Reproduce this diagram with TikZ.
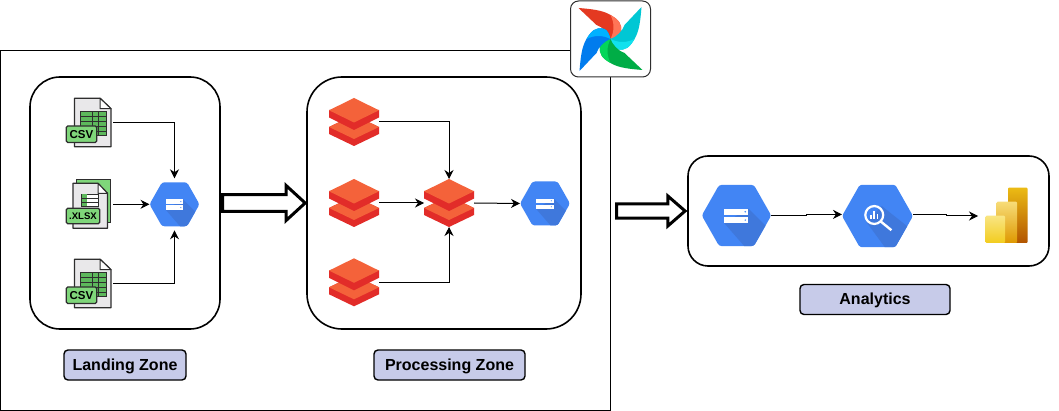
\documentclass[tikz,border=0pt]{standalone}
\usepackage{fontspec}
\setmainfont{Liberation Sans}
\usetikzlibrary{arrows.meta,shapes.arrows}
\definecolor{gcsblue}{HTML}{4285F4}
\definecolor{gcsshade}{HTML}{3F78DC}
\definecolor{dbred}{HTML}{E22C29}
\definecolor{dborange}{HTML}{F4623A}
\definecolor{labelfill}{HTML}{C7CBE9}
\definecolor{sheetgreen}{HTML}{7FD67A}
\definecolor{gridgreen}{HTML}{5DB85C}
\definecolor{inkdark}{HTML}{2E2E2E}
\definecolor{docgrey}{HTML}{E9E8EA}
\definecolor{afmainR}{HTML}{E43921}
\definecolor{aflightR}{HTML}{FF7557}
\definecolor{afmainT}{HTML}{00C7D4}
\definecolor{aflightT}{HTML}{11E1EE}
\definecolor{afmainG}{HTML}{00AD46}
\definecolor{aflightG}{HTML}{04D659}
\definecolor{afmainB}{HTML}{017CEE}
\definecolor{aflightB}{HTML}{00B2FF}
\definecolor{pbA}{HTML}{EBBB14}
\definecolor{pbB}{HTML}{B25400}
\definecolor{pbC}{HTML}{F7DC78}
\definecolor{pbD}{HTML}{DE9800}
\definecolor{pbE}{HTML}{F9E583}
\definecolor{pbF}{HTML}{F2CC1E}
\tikzset{
    zonebox/.style={draw,line width=1.6pt,rounded corners=#1,fill=white,inner sep=0},
    zonelabel/.style={draw,line width=1.4pt,rounded corners=4,fill=labelfill,inner sep=0,
        minimum height=30,text height=12,text depth=1,font=\fontsize{16}{18}\selectfont\bfseries},
    hold/.style={inner sep=0,outer sep=0},
    link/.style={line width=1pt,-{Stealth[length=9,width=9]}},
    blockarrow/.style={draw,line width=3pt,miter limit=10,single arrow,inner sep=0},
    pics/gcshex/.style={code={
        \fill[gcsblue,rounded corners=2.5] (-25,0) -- (-12.5,-22) -- (12.5,-22) -- (25,0) -- (12.5,22) -- (-12.5,22) -- cycle;
        \begin{scope}
            \clip[rounded corners=2.5] (-25,0) -- (-12.5,-22) -- (12.5,-22) -- (25,0) -- (12.5,22) -- (-12.5,22) -- cycle;
            \fill[gcsshade] (8.5,-5) -- (32,18.5) -- (16,34) -- (-8.8,5.5) -- cycle;
        \end{scope}
        \fill[white] (-8.8,-4.8) rectangle (8.5,-0.7);
        \fill[white] (-8.8,1.2) rectangle (8.5,5.4);
        \fill[gcsblue] (6.3,-2.7) circle (0.6);
        \fill[gcsblue] (6.3,3.3) circle (0.6);
    }},
    pics/bqhex/.style={code={
        \fill[gcsblue,rounded corners=2.5] (-25,0) -- (-12.5,-22) -- (12.5,-22) -- (25,0) -- (12.5,22) -- (-12.5,22) -- cycle;
        \begin{scope}
            \clip[rounded corners=2.5] (-25,0) -- (-12.5,-22) -- (12.5,-22) -- (25,0) -- (12.5,22) -- (-12.5,22) -- cycle;
            \fill[gcsshade] (3,-7) -- (32,16) -- (14,34) -- (-8,4) -- cycle;
        \end{scope}
        \draw[white,line width=2.2pt] (-2.3,-0.7) circle (6.3);
        \draw[white,line width=2.4pt] (2.2,3.8) -- (9.8,10);
        \fill[white] (-5.2,-0.6) rectangle (-4.1,2.3);
        \fill[white] (-2.9,-3.6) rectangle (-1.8,2.3);
        \fill[white] (-0.6,-1.6) rectangle (0.5,2.3);
    }},
    pics/bricks/.style={code={
        \fill[dbred] (-25,5) -- (0,-7) -- (25,5) -- (25,12) -- (0,24) -- (-25,12) -- cycle;
        \fill[dborange] (-25,5) -- (0,-7) -- (25,5) -- (0,17) -- cycle;
        \fill[dbred] (-25,-12) -- (25,-12) -- (25,-4.5) -- (0,8) -- (-25,-4.5) -- cycle;
        \fill[dborange] (-25,-11.7) -- (0,-24) -- (25,-11.7) -- (0,0.5) -- cycle;
    }},
    pics/csvdoc/.style={code={
        \draw[fill=docgrey,draw=inkdark,line width=1.3pt,line join=round] (-14.5,-24.5) -- (11,-24.5) -- (22,-14) -- (22,24) -- (-14.5,24) -- cycle;
        \draw[fill=white,draw=inkdark,line width=1pt,line join=round] (11,-24.5) -- (11,-14) -- (22,-14) -- cycle;
        \draw[fill=gridgreen,draw=inkdark,line width=1pt] (-8.5,-11) rectangle (17,13);
        \foreach \gy in {-6,-1,4,9} {\draw[inkdark,line width=0.9pt] (-8.5,\gy) -- (17,\gy);}
        \draw[inkdark,line width=0.9pt] (3,-11) -- (3,13);
        \draw[inkdark,line width=0.9pt] (9.5,-11) -- (9.5,13);
        \node[draw=inkdark,line width=1.3pt,fill=sheetgreen,rounded corners=1.5,inner sep=0,minimum width=30.5,minimum height=16.5,
            font=\fontsize{11.5}{12}\selectfont\bfseries] (csvtag) at (-7.5,11.5) {CSV};
    }},
    pics/xlsxdoc/.style={code={
        \fill[sheetgreen,draw=inkdark,line width=1pt] (-13,-25) rectangle (21,18);
        \draw[fill=docgrey,draw=inkdark,line width=1.3pt,line join=round] (-16,-21) -- (9,-21) -- (18.5,-11) -- (18.5,24) -- (-16,24) -- cycle;
        \draw[fill=white,draw=inkdark,line width=1pt,line join=round] (9,-21) -- (9,-11) -- (18.5,-11) -- cycle;
        \draw[fill=white,draw=inkdark,line width=1.1pt] (-7.5,-10) rectangle (9.5,2);
        \fill[gridgreen] (-7.5,-10) rectangle (-2,2);
        \draw[inkdark,line width=0.9pt] (-7.5,-6) -- (9.5,-6);
        \draw[inkdark,line width=0.9pt] (-7.5,-2) -- (9.5,-2);
        \node[draw=inkdark,line width=1.3pt,fill=sheetgreen,rounded corners=1.5,inner sep=0,minimum width=33.5,minimum height=15.5,
            font=\fontsize{9.6}{11}\selectfont\bfseries] (xlsxtag) at (-6,11.7) {.XLSX};
    }},
    pics/pinwheel/.style={code={
        \foreach \ang/\bladecol/\tintcol in {0/afmainR/aflightR,-90/afmainT/aflightT,-180/afmainG/aflightG,-270/afmainB/aflightB} {
            \begin{scope}[rotate=\ang]
                \fill[\bladecol] (-32,-31) .. controls (-20,-30) and (-8,-29) .. (0,-24) .. controls (7,-20) and (13,-15) .. (10,-6)
                    .. controls (9,-3) and (4,-1) .. (0,0) .. controls (-2,-6) and (-8,-12) .. (-14,-14) -- cycle;
                \fill[\tintcol] (0,-24) .. controls (7,-20) and (13,-15) .. (10,-6) .. controls (9,-3) and (4,-1) .. (0,0)
                    .. controls (4,-8) and (4,-16) .. (0,-24) -- cycle;
            \end{scope}
        }
    }}
}
\begin{document}
\begin{tikzpicture}[x=1pt,y=-1pt]
    \useasboundingbox (0,0) rectangle (1059,411);
    % zones
    \node[draw,line width=1pt,fill=white,inner sep=0,minimum width=610,minimum height=360] (outerZone) at (305.5,230.5) {};
    \node[zonebox=30,minimum width=190,minimum height=252] (landingBox) at (125,203) {};
    \node[zonebox=35,minimum width=274,minimum height=252] (processBox) at (444,203) {};
    \node[zonebox=20,minimum width=361,minimum height=110] (analyticsBox) at (868.5,211) {};
    \node[draw,line width=1pt,draw=inkdark,fill=white,rounded corners=8,inner sep=0,minimum width=80,minimum height=76] (airflowBox) at (610.5,39) {};
    \pic at (airflowBox) {pinwheel};

    % landing zone
    \node[hold,minimum width=48,minimum height=52] (csvTop) at (89,122.7) {};
    \node[hold,minimum width=48,minimum height=52] (xlsxMid) at (89,204.3) {};
    \node[hold,minimum width=48,minimum height=52] (csvLow) at (89,283.7) {};
    \node[hold,minimum width=50,minimum height=52] (gcsLanding) at (174.5,204.3) {};
    \pic at (csvTop) {csvdoc};
    \pic at (xlsxMid) {xlsxdoc};
    \pic at (csvLow) {csvdoc};
    \pic at (gcsLanding) {gcshex};
    \draw[link] (csvTop.east) -| (gcsLanding.north);
    \draw[link] (xlsxMid.east) -- (gcsLanding.west);
    \draw[link] (csvLow.east) -| (gcsLanding.south);

    % processing zone
    \node[hold,minimum width=50,minimum height=48] (brickTop) at (354,122) {};
    \node[hold,minimum width=50,minimum height=48] (brickMid) at (354,203) {};
    \node[hold,minimum width=50,minimum height=48] (brickLow) at (354,282.3) {};
    \node[hold,minimum width=50,minimum height=48] (brickJoin) at (449,203) {};
    \node[hold,minimum width=50,minimum height=45] (gcsProcess) at (545,203.5) {};
    \pic at (brickTop) {bricks};
    \pic at (brickMid) {bricks};
    \pic at (brickLow) {bricks};
    \pic at (brickJoin) {bricks};
    \pic at (gcsProcess) {gcshex};
    \draw[link] (brickTop.east) -| (brickJoin.north);
    \draw[link] (brickMid.east) -- (brickJoin.west);
    \draw[link] (brickLow.east) -| (brickJoin.south);
    \draw[link] (brickJoin.east) -- (gcsProcess.west);

    % analytics
    \node[hold,minimum width=69,minimum height=62] (gcsServe) at (736.5,215.6) {};
    \node[hold,minimum width=71,minimum height=64] (bigQuery) at (877.5,214.4) {};
    \node[hold,minimum width=8,minimum height=56] (powerBi) at (982,216) {};
    \pic[scale=1.39] at (736.5,215.5) {gcshex};
    \pic[scale=1.42] at (877.5,216) {bqhex};
    \shade[rounded corners=1,top color=pbA,bottom color=pbB] (1008,187.7) rectangle (1027.5,243);
    \shade[rounded corners=1,top color=pbC,bottom color=pbD] (996.7,201.7) rectangle (1017,243);
    \shade[rounded corners=1,top color=pbE,bottom color=pbF] (985.7,215.7) rectangle (1005,243);
    \draw[link] (gcsServe.east) -- ++(35,0) |- (bigQuery.west);
    \draw[link] (bigQuery.east) -- ++(33,0) |- (powerBi.west);

    % block arrows
    \node[blockarrow,minimum height=82.5,minimum width=35,single arrow tip angle=85,inner ysep=5.2] (landToProcess) at (259.3,203) {};
    \node[blockarrow,minimum height=68.5,minimum width=30,single arrow tip angle=82,inner ysep=5] (zoneToAnalytics) at (646.7,211) {};

    % labels
    \node[zonelabel,minimum width=122] (landingLabel) at (125,365) {Landing Zone};
    \node[zonelabel,minimum width=151] (processLabel) at (449.5,365) {Processing Zone};
    \node[zonelabel,minimum width=150] (analyticsLabel) at (875,299.5) {Analytics};
\end{tikzpicture}
\end{document}
